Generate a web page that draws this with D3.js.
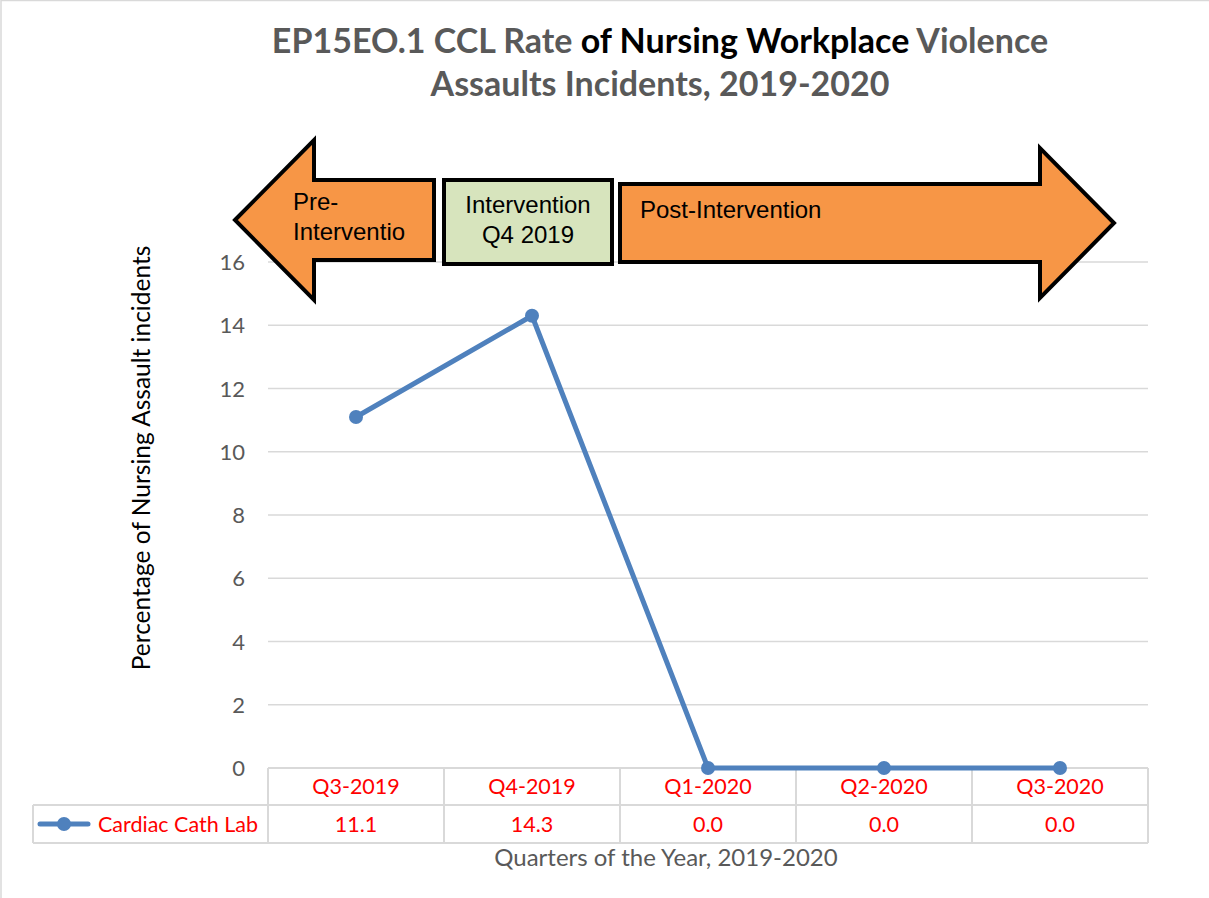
<!DOCTYPE html>
<html><head><meta charset="utf-8">
<script src="https://cdn.jsdelivr.net/npm/d3@7"></script>
<style>body{margin:0;background:#fff}svg{display:block}</style>
</head><body>
<script>
const categories = ["Q3-2019","Q4-2019","Q1-2020","Q2-2020","Q3-2020"];
const seriesName = "Cardiac Cath Lab";
const values = [11.1, 14.3, 0.0, 0.0, 0.0];
const yTicks = [0,2,4,6,8,10,12,14,16];
const phases = ["Pre-Interventio","Intervention Q4 2019","Post-Intervention"];

const W=1209,H=898;
const svg=d3.select("body").append("svg").attr("width",W).attr("height",H);
const F="Lato, 'Open Sans', sans-serif";
const A="'Liberation Sans', Arial, sans-serif";

// outer border (top & left visible)
svg.append("line").attr("x1",1).attr("y1",0.5).attr("x2",W).attr("y2",0.5).attr("stroke","#d9d9d9").attr("stroke-width",1.5);
svg.append("line").attr("x1",1).attr("y1",0).attr("x2",1).attr("y2",H).attr("stroke","#d9d9d9").attr("stroke-width",1.5);

const x=d3.scaleBand().domain(categories).range([268,1148]);
const y=d3.scaleLinear().domain([0,16]).range([768,262]);

// title
const t=svg.append("text").attr("text-anchor","middle").attr("font-family",F).attr("font-weight","bold").attr("font-size",34);
const l1=t.append("tspan").attr("x",660).attr("y",53);
l1.append("tspan").attr("fill","#595959").text("EP15EO.1 CCL Rate ");
l1.append("tspan").attr("fill","#000").text("of Nursing Workplace ");
l1.append("tspan").attr("fill","#595959").text("Violence");
t.append("tspan").attr("x",660).attr("y",96).attr("fill","#595959").text("Assaults Incidents, 2019-2020");

// gridlines
svg.append("g").selectAll("line").data(yTicks.filter(d=>d>0)).join("line")
  .attr("x1",268).attr("x2",1148).attr("y1",d=>y(d)).attr("y2",d=>y(d))
  .attr("stroke","#d9d9d9").attr("stroke-width",1.5);

// y axis tick labels
const yAxis=d3.axisLeft(y).tickValues(yTicks).tickSize(0).tickPadding(0);
const ga=svg.append("g").attr("transform","translate(245,0)").call(yAxis);
ga.select(".domain").remove();
ga.selectAll("text").attr("font-family",F).attr("font-size",22).attr("fill","#595959").attr("dy","0.35em");

// y axis title
svg.append("text").attr("transform","translate(150,458) rotate(-90)").attr("text-anchor","middle")
  .attr("font-family",F).attr("font-size",24.5).attr("fill","#000").text("Percentage of Nursing Assault incidents");

// phase arrows
const ar=svg.append("g").attr("stroke","#000").attr("stroke-width",4).attr("stroke-linejoin","miter");
ar.append("path").attr("fill","#f79646")
  .attr("d","M235,220 L314,140 L314,180 L434,180 L434,260 L314,260 L314,300 Z");
ar.append("rect").attr("fill","#d7e4bd").attr("x",444).attr("y",180).attr("width",168).attr("height",84);
ar.append("path").attr("fill","#f79646")
  .attr("d","M620,184 L1040,184 L1040,148 L1114,223 L1040,298 L1040,262 L620,262 Z");
const at=svg.append("g").attr("font-family",A).attr("font-size",24).attr("fill","#000");
at.append("text").attr("x",293).attr("y",210).text("Pre-");
at.append("text").attr("x",293).attr("y",240).text("Interventio");
at.append("text").attr("x",528).attr("y",213).attr("text-anchor","middle").text("Intervention");
at.append("text").attr("x",528).attr("y",243).attr("text-anchor","middle").text("Q4 2019");
at.append("text").attr("x",640).attr("y",218).text("Post-Intervention");

// data table
const rowTop=768,rowMid=805,rowBot=843;
const tb=svg.append("g").attr("stroke","#d9d9d9").attr("stroke-width",2);
tb.append("line").attr("x1",268).attr("x2",1148).attr("y1",rowTop).attr("y2",rowTop);
tb.append("line").attr("x1",33).attr("x2",1148).attr("y1",rowMid).attr("y2",rowMid);
tb.append("line").attr("x1",33).attr("x2",1148).attr("y1",rowBot).attr("y2",rowBot);
tb.append("line").attr("x1",33).attr("x2",33).attr("y1",rowMid).attr("y2",rowBot);
const edges=categories.map(c=>x(c)).concat([x.range()[1]]);
tb.selectAll(".v").data(edges).join("line").attr("x1",d=>d).attr("x2",d=>d).attr("y1",rowTop).attr("y2",rowBot);

const tt=svg.append("g").attr("font-family",F).attr("font-size",21.5).attr("fill","#ff0000").attr("text-anchor","middle");
tt.selectAll(".h").data(categories).join("text").attr("x",d=>x(d)+x.bandwidth()/2).attr("y",794).text(d=>d);
tt.selectAll(".v").data(values).join("text").attr("x",(d,i)=>x(categories[i])+x.bandwidth()/2).attr("y",832).text(d=>d.toFixed(1));

// legend key
svg.append("line").attr("x1",40).attr("x2",88).attr("y1",824).attr("y2",824).attr("stroke","#4f81bd").attr("stroke-width",5).attr("stroke-linecap","round");
svg.append("circle").attr("cx",64).attr("cy",824).attr("r",7).attr("fill","#4f81bd");
svg.append("text").attr("x",98).attr("y",832).attr("font-family",F).attr("font-size",21.5).attr("fill","#ff0000").text(seriesName);

// x axis title
svg.append("text").attr("x",666).attr("y",866).attr("text-anchor","middle").attr("font-family",F).attr("font-size",24).attr("fill","#595959").text("Quarters of the Year, 2019-2020");

// series
const line=d3.line().x((d,i)=>x(categories[i])+x.bandwidth()/2).y(d=>y(d));
svg.append("path").datum(values).attr("d",line).attr("fill","none").attr("stroke","#4f81bd").attr("stroke-width",5).attr("stroke-linejoin","round");
svg.append("g").selectAll("circle").data(values).join("circle")
  .attr("cx",(d,i)=>x(categories[i])+x.bandwidth()/2).attr("cy",d=>y(d)).attr("r",7).attr("fill","#4f81bd");
</script>
</body></html>
